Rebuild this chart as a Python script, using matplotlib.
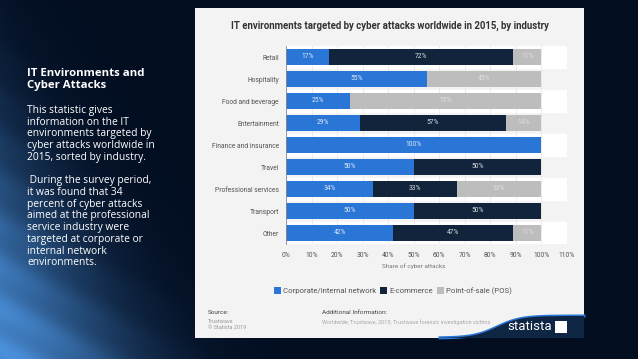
import numpy as np
import matplotlib.pyplot as plt
from matplotlib.patches import Rectangle, Polygon

industries = ['Retail', 'Hospitality', 'Food and beverage', 'Entertainment', 'Finance and insurance',
	'Travel', 'Professional services', 'Transport', 'Other']
corporate = [17, 55, 25, 29, 100, 50, 34, 50, 42]
ecommerce = [72, 0, 0, 57, 0, 50, 33, 50, 47]
pos = [11, 45, 75, 14, 0, 0, 33, 0, 11]
series_names = ['Corporate/internal network', 'E-commerce', 'Point-of-sale (POS)']
series_colors = ['#2a76d6', '#11243c', '#bdbdbd']
xticks = list(range(0, 111, 10))

W, H = 638, 359
fig = plt.figure(figsize=(W / 100, H / 100), dpi=100)


def fx(px):
	return px / W


def fy(py):
	return 1 - py / H


# slide background: dark navy with a blue glow towards the bottom left
bg = fig.add_axes([0, 0, 1, 1])
yy, xx = np.mgrid[0:H, 0:W]
u = (xx + (H - yy) * 0.6) / W
glow = np.exp(-(u / 0.2) ** 2)
# faint light streaks running up and to the right
streak = 0.5 + 0.5 * np.sin((xx * 0.45 + (H - yy) * 0.9) / 6.0)
glow = glow * (0.88 + 0.12 * streak)
base = np.array([2, 13, 32]) / 255
light = np.array([75, 145, 220]) / 255
img = base[None, None, :] + glow[..., None] * (light - base)[None, None, :]
bg.imshow(np.clip(img, 0, 1), extent=[0, W, H, 0], aspect='auto')
bg.set_xlim(0, W)
bg.set_ylim(H, 0)
bg.axis('off')

# left text
fig.text(fx(27), fy(68), 'IT Environments and\nCyber Attacks', color='white', fontsize=8.2,
	fontweight='bold', family='Open Sans', va='top', linespacing=1.15)
body = ('This statistic gives\ninformation on the IT\nenvironments targeted by\n'
	'cyber attacks worldwide in\n2015, sorted by industry.\n\n'
	' During the survey period,\nit was found that 34\npercent of cyber attacks\n'
	'aimed at the professional\nservice industry were\ntargeted at corporate or\n'
	'internal network\nenvironments.')
fig.text(fx(27), fy(105), body, color='white', fontsize=7.4, family='Open Sans', va='top',
	linespacing=1.09)

# white statista panel
fig.patches.append(Rectangle((fx(195), fy(338)), fx(584) - fx(195), fy(8) - fy(338),
	transform=fig.transFigure, facecolor='#f3f3f3', edgecolor='none', zorder=1))
fig.text(fx(390), fy(26), 'IT environments targeted by cyber attacks worldwide in 2015, by industry',
	ha='center', va='center', fontsize=6.9, fontweight='bold', color='#333333', family='Roboto', zorder=3)

# logo corner
xs = np.linspace(440, 584, 80)
curve = 338 - 22 / (1 + np.exp(-(xs - 497) / 12))
pts = [(fx(x), fy(y)) for x, y in zip(xs, curve)] + [(fx(584), fy(338)), (fx(440), fy(338))]
fig.patches.append(Polygon(pts, closed=True, transform=fig.transFigure, facecolor='#0f2544',
	edgecolor='none', zorder=2))
fig.lines.append(plt.Line2D([fx(x) for x in xs], [fy(y) for y in curve], transform=fig.transFigure,
	color='#2a76d6', lw=2.2, zorder=2))
fig.text(fx(552), fy(327), 'statista', color='white', fontsize=9.5, ha='right', va='center',
	family='Roboto', zorder=3)
fig.patches.append(Rectangle((fx(555), fy(333)), fx(12), fy(321) - fy(333), transform=fig.transFigure,
	facecolor='white', edgecolor='none', zorder=3))

# bar chart
ax = fig.add_axes([fx(286), fy(244), fx(567) - fx(286), fy(46) - fy(244)], zorder=4)
ax.set_facecolor('#f3f3f3')
y = np.arange(len(industries))
for i in y:
	if i % 2 == 0:
		ax.axhspan(i - 0.5, i + 0.5, color='white', zorder=0)
for t in xticks:
	ax.axvline(t, color='#e4e4e4', lw=0.5, zorder=0.5)
left = np.zeros(len(industries))
for vals, name, col in zip([corporate, ecommerce, pos], series_names, series_colors):
	vals = np.array(vals)
	ax.barh(y, vals, left=left, height=0.74, color=col, label=name, zorder=2)
	for yi, lv, val in zip(y, left, vals):
		if val > 0:
			ax.text(lv + val / 2, yi, f'{val}%', ha='center', va='center', color='white',
				fontsize=4.8, family='Roboto', zorder=3, alpha=0.85 if col != '#bdbdbd' else 0.55)
	left = left + vals
ax.set_xlim(0, 110)
ax.set_ylim(len(industries) - 0.5, -0.5)
ax.set_yticks(y)
ax.set_yticklabels(industries, fontsize=4.9, color='#555555', family='Roboto')
ax.set_xticks(xticks)
ax.set_xticklabels([f'{t}%' for t in xticks], fontsize=4.9, color='#555555', family='Roboto')
ax.tick_params(length=0, pad=6)
ax.tick_params(axis='y', pad=5)
for s in ax.spines.values():
	s.set_visible(False)
ax.spines['left'].set_visible(True)
ax.spines['left'].set_color('#888888')
ax.spines['left'].set_linewidth(0.6)
fig.text(fx(414), fy(266), 'Share of cyber attacks', ha='center', va='center', fontsize=4.6,
	color='#777777', family='Roboto', zorder=3)

handles, labels = ax.get_legend_handles_labels()
leg = fig.legend(handles, labels, loc='center', bbox_to_anchor=(fx(393), fy(291)), ncol=3, frameon=False,
	handlelength=0.9, handleheight=0.9, handletextpad=0.3, columnspacing=0.5,
	prop={'family': 'Roboto', 'size': 5.6})
for t in leg.get_texts():
	t.set_color('#555555')
leg.set_zorder(5)

fig.text(fx(208), fy(313), 'Source:', fontsize=4.6, color='#444444', family='Roboto', va='center', zorder=3)
fig.text(fx(208), fy(319), 'Trustwave\n© Statista 2019', fontsize=4.0, color='#999999', family='Roboto',
	va='top', linespacing=1.3, zorder=3)
fig.text(fx(322), fy(313), 'Additional Information:', fontsize=4.6, color='#444444', family='Roboto',
	va='center', zorder=3)
fig.text(fx(322), fy(322), 'Worldwide; Trustwave; 2015; Trustwave forensic investigation victims',
	fontsize=4.0, color='#aaaaaa', family='Roboto', va='center', zorder=3)

fig.savefig('out.png', dpi=100)
